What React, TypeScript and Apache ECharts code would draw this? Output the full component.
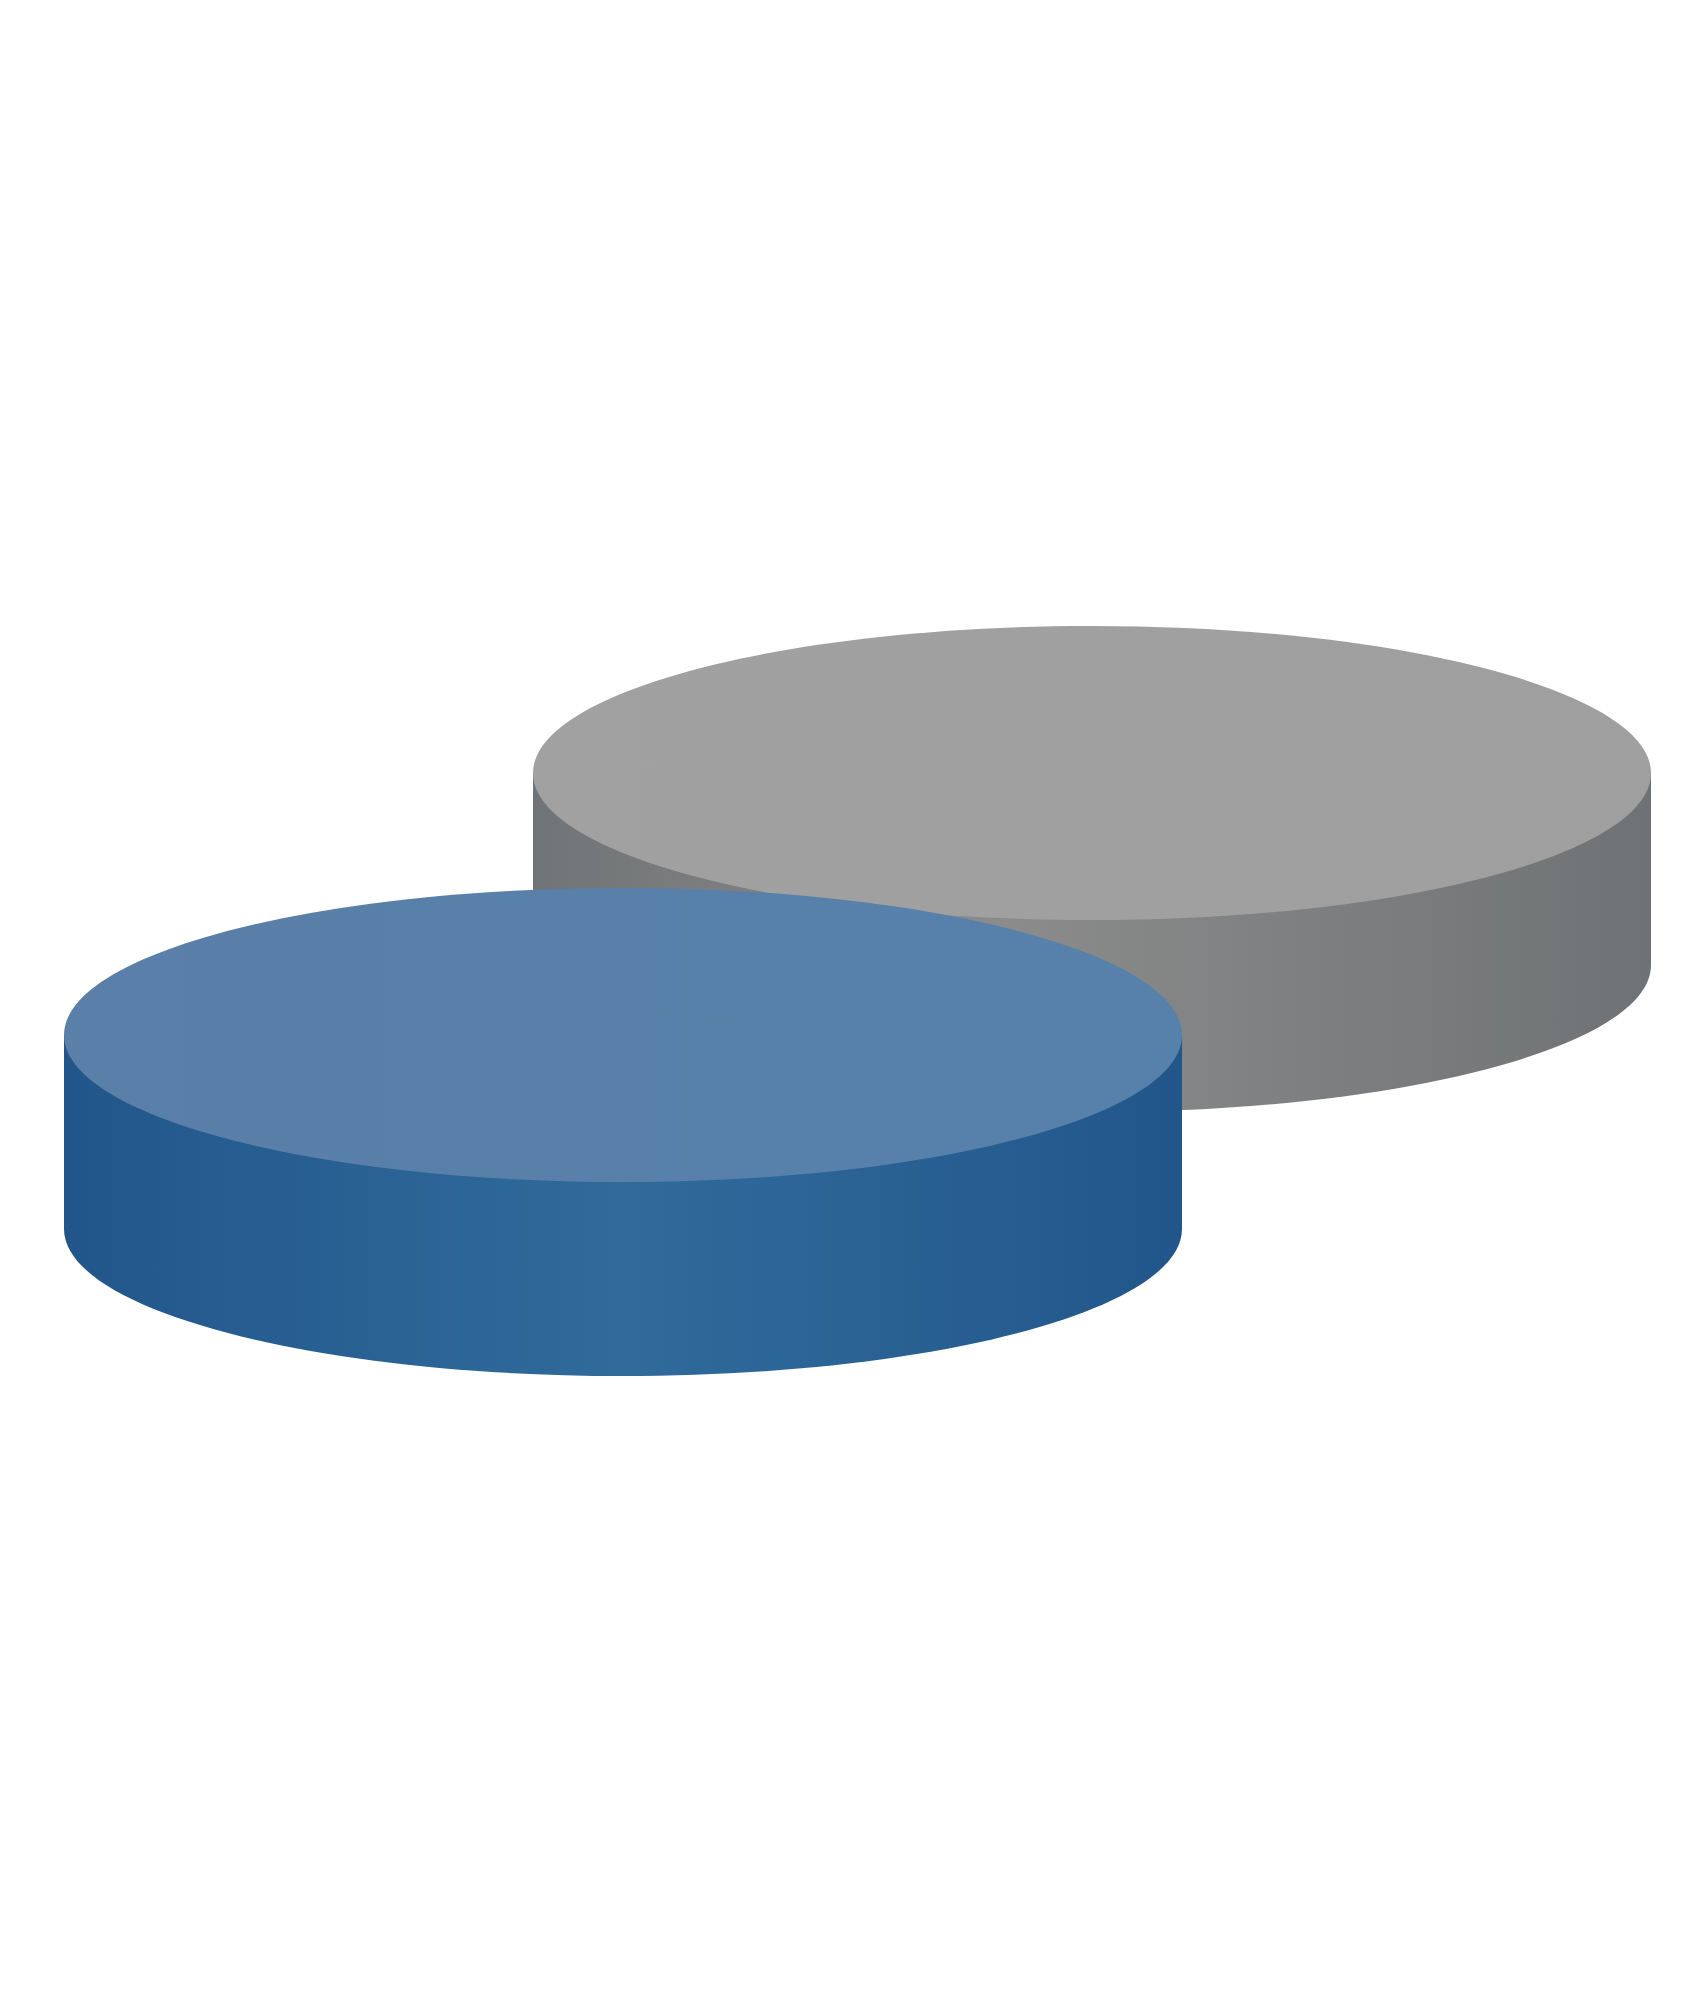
import { useEffect, useRef } from "react";
import * as echarts from "echarts";

// two stacked discs (back to front), values in plot units on hidden value axes
const DISCS = ["back", "front"];
const CENTER_X = [1092, 623];   // centre of top face
const CENTER_Y = [773, 1035];
const RADIUS_X = [559, 559];
const RADIUS_Y = [147, 147];
const DEPTH = [192, 194];       // side height

const TOP_COLORS = [
  ["#a1a1a1", "#9f9f9f"],
  ["#5a7fa8", "#5681ab"],
];
const SIDE_COLORS = [
  ["#717476", "#8b8b8b", "#6f7274"],
  ["#22568a", "#306b9c", "#22568a"],
];
const SIDE_MID = [0.42, 0.5];

export default function App() {
  const ref = useRef<HTMLDivElement>(null);

  useEffect(() => {
    if (!ref.current) return;
    const inst = echarts.init(ref.current, undefined, { renderer: "svg" });

    const data = DISCS.map((name, i) => ({
      name,
      value: [CENTER_X[i], CENTER_Y[i], RADIUS_X[i], RADIUS_Y[i], DEPTH[i]],
    }));

    inst.setOption({
      animation: false,
      backgroundColor: "#ffffff",
      grid: { left: 0, right: 0, top: 0, bottom: 0 },
      xAxis: { type: "value", min: 0, max: 1700, show: false },
      yAxis: { type: "value", min: 0, max: 2005, inverse: true, show: false },
      series: [
        {
          type: "custom",
          encode: { x: 0, y: 1 },
          data,
          renderItem: (params: any, api: any) => {
            const i = params.dataIndex;
            const cx = api.value(0), cy = api.value(1);
            const rx = api.value(2), ry = api.value(3), h = api.value(4);
            const c = api.coord([cx, cy]);
            const tl = api.coord([cx - rx, cy - ry]);
            const bot = api.coord([cx, cy + h]);
            const prx = Math.abs(c[0] - tl[0]);
            const pry = Math.abs(c[1] - tl[1]);
            const pb = bot[1];
            const [s0, s1, s2] = SIDE_COLORS[i];
            const sideFill = new echarts.graphic.LinearGradient(0, 0, 1, 0, [
              { offset: 0, color: s0 },
              { offset: SIDE_MID[i], color: s1 },
              { offset: 1, color: s2 },
            ]);
            const topFill = new echarts.graphic.LinearGradient(0, 0, 1, 0, [
              { offset: 0, color: TOP_COLORS[i][0] },
              { offset: 1, color: TOP_COLORS[i][1] },
            ]);
            return {
              type: "group",
              children: [
                {
                  type: "ellipse",
                  shape: { cx: c[0], cy: pb, rx: prx, ry: pry },
                  style: { fill: sideFill },
                },
                {
                  type: "rect",
                  shape: { x: c[0] - prx, y: c[1], width: prx * 2, height: pb - c[1] },
                  style: { fill: sideFill },
                },
                {
                  type: "ellipse",
                  shape: { cx: c[0], cy: c[1], rx: prx, ry: pry },
                  style: { fill: topFill },
                },
              ],
            };
          },
        },
      ],
    });

    return () => inst.dispose();
  }, []);

  return (
    <div
      ref={ref}
      style={{ position: "absolute", left: 0, top: 0, width: 1700, height: 2005 }}
    />
  );
}
